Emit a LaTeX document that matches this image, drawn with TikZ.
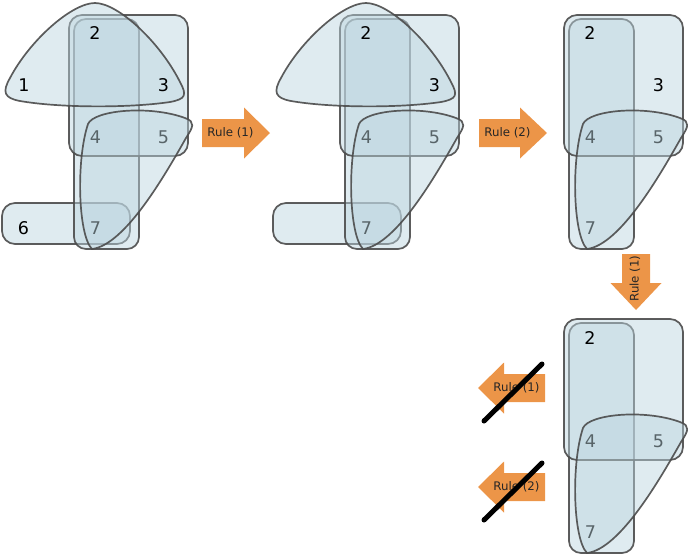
\documentclass[tikz,border=0pt]{standalone}
\usepackage{fontspec}
\newfontfamily\djv{DejaVu Sans}
\definecolor{edgefill}{RGB}{188,213,223}
\definecolor{edgeline}{RGB}{75,75,75}
\definecolor{ruleorange}{RGB}{236,149,72}
\tikzset{
  hedge/.style={fill=edgefill, fill opacity=0.47, draw=edgeline, draw opacity=0.9, line width=1.7pt},
  vlabel/.style={font=\djv\fontsize{17.5}{19}\selectfont, text=black, inner sep=0pt},
  rtext/.style={font=\djv\fontsize{11.8}{13}\selectfont, text=black!85, inner sep=0pt},
  crossline/.style={line width=5pt, line cap=round, draw=black},
  pics/bigrect/.style={code={\draw[hedge, rounded corners=13pt] (69,15) rectangle (188,156);}},
  pics/tallrect/.style={code={\draw[hedge, rounded corners=12pt] (74,19) rectangle (139,249);}},
  pics/sixrect/.style={code={\draw[hedge, rounded corners=13pt] (2,203) rectangle (130,244);}},
  pics/triedge/.style={code={\draw[hedge] (95,3) .. controls (72,3) and (30,40) .. (10,78)
      .. controls (2,92) and (4,98) .. (20,101)
      .. controls (60,108) and (130,108) .. (170,102)
      .. controls (186,99) and (187,95) .. (180,82)
      .. controls (160,42) and (118,3) .. cycle;}},
  pics/blobedge/.style={code={\draw[hedge] (92,249) .. controls (78,235) and (76,160) .. (88,124)
      .. controls (94,110) and (150,105) .. (185,118)
      .. controls (196,122) and (193,127) .. (186,138)
      .. controls (165,175) and (125,245) .. cycle;}},
}
\newcommand\rulearrow[4]{%
  \fill[ruleorange, shift={#1}, rotate=#2] (0,14) -- (#4,14) -- (#4,25.5) -- (#3,0)
     -- (#4,-25.5) -- (#4,-14) -- (0,-14) -- cycle;}
\begin{document}
\begin{tikzpicture}[x=1pt, y=-1pt]
\useasboundingbox (0,0) rectangle (688,555);
% ---------- figure 1
\begin{scope}
  \pic at (0,0) {sixrect};
  \pic at (0,0) {tallrect};
  \pic at (0,0) {bigrect};
  \pic at (0,0) {triedge};
  \node[vlabel] (a1) at (24,85) {1};
  \node[vlabel] (a2) at (95,33.5) {2};
  \node[vlabel] (a3) at (163.5,85) {3};
  \node[vlabel] (a4) at (95.5,137.5) {4};
  \node[vlabel] (a5) at (163.5,137.5) {5};
  \node[vlabel] (a6) at (23.5,228.5) {6};
  \node[vlabel] (a7) at (95.5,228.5) {7};
  \pic at (0,0) {blobedge};
\end{scope}
% ---------- figure 2
\begin{scope}[shift={(271,0)}]
  \pic at (0,0) {sixrect};
  \pic at (0,0) {tallrect};
  \pic at (0,0) {bigrect};
  \pic at (0,0) {triedge};
  \node[vlabel] (b2) at (95,33.5) {2};
  \node[vlabel] (b3) at (163.5,85) {3};
  \node[vlabel] (b4) at (95.5,137.5) {4};
  \node[vlabel] (b5) at (163.5,137.5) {5};
  \node[vlabel] (b7) at (95.5,228.5) {7};
  \pic at (0,0) {blobedge};
\end{scope}
% ---------- figure 3
\begin{scope}[shift={(495,0)}]
  \pic at (0,0) {tallrect};
  \pic at (0,0) {bigrect};
  \node[vlabel] (c2) at (95,33.5) {2};
  \node[vlabel] (c3) at (163.5,85) {3};
  \node[vlabel] (c4) at (95.5,137.5) {4};
  \node[vlabel] (c5) at (163.5,137.5) {5};
  \node[vlabel] (c7) at (95.5,228.5) {7};
  \pic at (0,0) {blobedge};
\end{scope}
% ---------- figure 4
\begin{scope}[shift={(495,304)}]
  \pic at (0,0) {tallrect};
  \pic at (0,0) {bigrect};
  \node[vlabel] (d2) at (95,33.5) {2};
  \node[vlabel] (d4) at (95.5,137.5) {4};
  \node[vlabel] (d5) at (163.5,137.5) {5};
  \node[vlabel] (d7) at (95.5,228.5) {7};
  \pic at (0,0) {blobedge};
\end{scope}
% ---------- rule arrows
\rulearrow{(202,133)}{0}{68}{42}
\node[rtext] (r1) at (230.5,133) {Rule (1)};
\rulearrow{(479,133)}{0}{68}{41}
\node[rtext] (r2) at (507.5,133) {Rule (2)};
\rulearrow{(636,254)}{-90}{56}{29}
\node[rtext, rotate=90] (r3) at (635,278.5) {Rule (1)};
\rulearrow{(545,388)}{180}{67}{41}
\node[rtext] (r4) at (516.5,388) {Rule (1)};
\rulearrow{(545,487)}{180}{67}{41}
\node[rtext] (r5) at (516.5,487) {Rule (2)};
% ---------- crossed out
\coordinate (x1a) at (484,421);
\coordinate (x1b) at (542,364);
\coordinate (x2a) at (484,520);
\coordinate (x2b) at (542,463);
\draw[crossline] (x1a) -- (x1b);
\draw[crossline] (x2a) -- (x2b);
\end{tikzpicture}
\end{document}
